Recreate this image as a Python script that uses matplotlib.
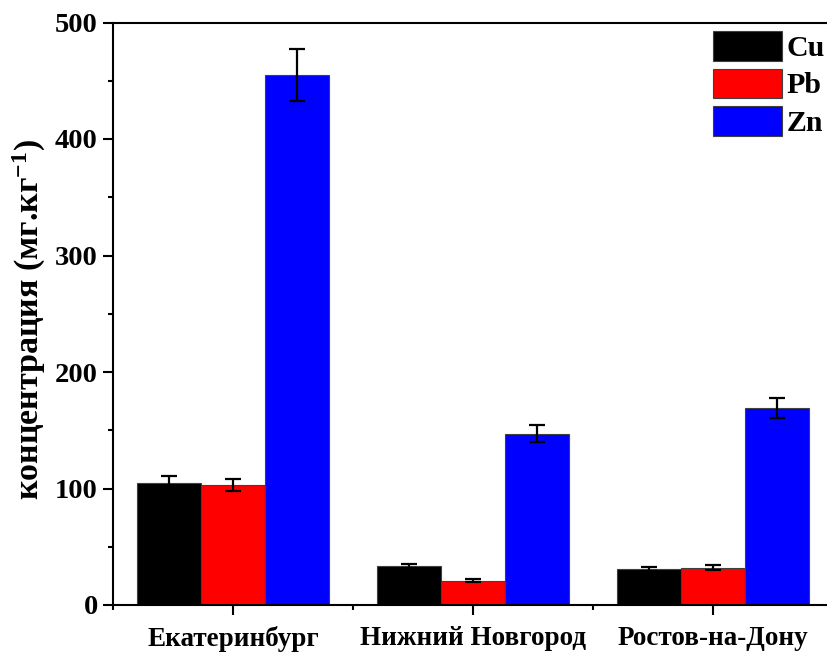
import matplotlib.pyplot as plt
import numpy as np
from matplotlib.ticker import MultipleLocator, FixedLocator

plt.rcParams['font.family'] = ['Liberation Serif', 'DejaVu Serif']
plt.rcParams['font.weight'] = 'bold'
plt.rcParams['mathtext.default'] = 'regular'

# данные
cities = ['Екатеринбург', 'Нижний Новгород', 'Ростов-на-Дону']
metals = ['Cu', 'Pb', 'Zn']
cu = [105, 33.5, 31]
pb = [103, 21, 32]
zn = [455, 147, 169]
cu_err = [5.5, 2, 2]
pb_err = [5, 1.5, 2]
zn_err = [22.5, 7.5, 8.5]
colors = ['#000000', '#ff0000', '#0000ff']

fig = plt.figure(figsize=(8.28, 6.53), dpi=100)
ax = fig.add_axes([113/828, 48/653, 720/828, 582.5/653])

x = np.arange(len(cities))
w = 0.8 / 3
for i, (vals, errs) in enumerate(zip([cu, pb, zn], [cu_err, pb_err, zn_err])):
    ax.bar(x + (i - 1) * w, vals, w, color=colors[i], edgecolor='#404040',
           linewidth=0.8, label=metals[i])
    ax.errorbar(x + (i - 1) * w, vals, yerr=errs, fmt='none', ecolor='black',
                elinewidth=1.6, capsize=6, capthick=1.6)

ax.set_xlim(-0.5, 2.5)
ax.set_ylim(0, 500)
ax.set_xticks(x)
ax.set_xticklabels(cities, fontsize=19.5, fontweight='bold')
ax.xaxis.set_minor_locator(FixedLocator([-0.5, 0.5, 1.5, 2.5]))
ax.yaxis.set_major_locator(MultipleLocator(100))
ax.yaxis.set_minor_locator(MultipleLocator(50))
for lab in ax.get_yticklabels():
    lab.set_fontsize(20.5)
    lab.set_fontweight('bold')

ax.tick_params(which='major', direction='out', length=7, width=1.5, pad=4)
ax.tick_params(which='minor', direction='out', length=3.5, width=1.5)
ax.tick_params(axis='x', which='major', pad=8)
for s in ax.spines.values():
    s.set_linewidth(1.5)

ax.set_ylabel('концентрация (мг.кг$^{-1}$)', fontsize=24.5, fontweight='bold', labelpad=4)
ax.yaxis.set_label_coords(-0.09, 0.49)

ax.legend(loc='upper left', bbox_to_anchor=(713/828, 1 - 31/653),
          bbox_transform=fig.transFigure, frameon=False,
          handlelength=2.3, handleheight=1.15, labelspacing=0.22,
          handletextpad=0.15, borderpad=0, borderaxespad=0,
          prop={'weight': 'bold', 'size': 21.5})

fig.savefig('out.png', dpi=100)
